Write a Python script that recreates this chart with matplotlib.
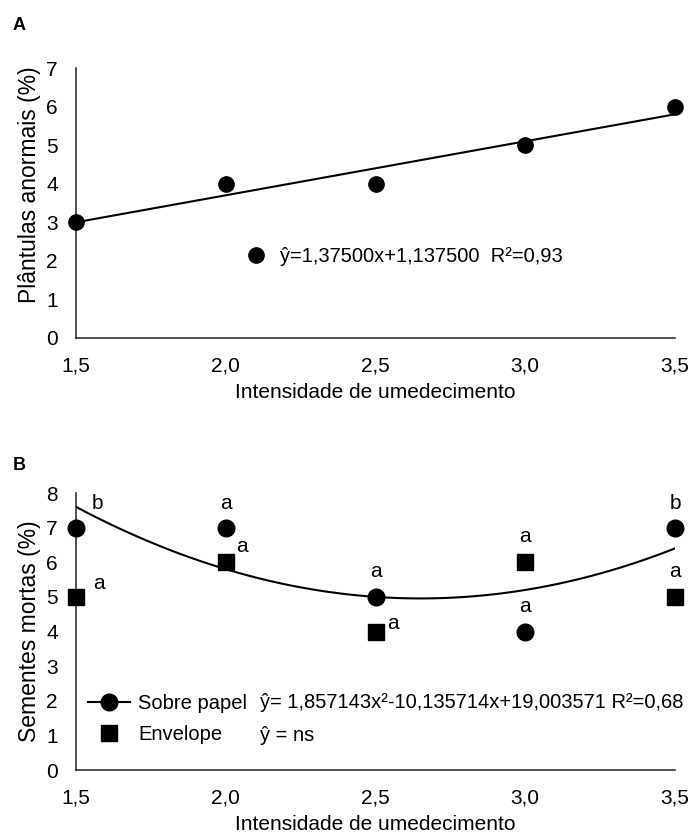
import numpy as np
import matplotlib
matplotlib.use("Agg")
from matplotlib import pyplot as plt
from matplotlib.lines import Line2D

plt.rcParams['font.family'] = ['Liberation Sans', 'DejaVu Sans']

# dados
umidade = [1.5, 2.0, 2.5, 3.0, 3.5]
anormais = [3, 4, 4, 5, 6]
sobre_papel = [7, 7, 5, 4, 7]
envelope = [5, 6, 4, 6, 5]
letras_papel = ['b', 'a', 'a', 'a', 'b']
letras_envelope = ['a', 'a', 'a', 'a', 'a']
xticks = ['1,5', '2,0', '2,5', '3,0', '3,5']

FS = 15      # ticks, eixo x, letras
FS_Y = 16.5  # rotulo eixo y
FS_LEG = 14.5

fig = plt.figure(figsize=(6.9, 8.33), dpi=100)
W, H = 690, 833
axA = fig.add_axes([76 / W, 1 - 338 / H, 599 / W, 270 / H])
axB = fig.add_axes([76 / W, 1 - 770 / H, 599 / W, 277 / H])


def estilo(ax, ymax, ylabel, ylab_pos=0.5):
    ax.set_xlim(1.5, 3.5)
    ax.set_ylim(0, ymax)
    ax.set_xticks(umidade)
    ax.set_xticklabels(xticks)
    ax.set_yticks(range(ymax + 1))
    for s in ['top', 'right']:
        ax.spines[s].set_visible(False)
    for s in ['left', 'bottom']:
        ax.spines[s].set_linewidth(1.1)
        ax.spines[s].set_color('#222222')
    ax.tick_params(axis='both', length=0, labelsize=FS)
    ax.tick_params(axis='y', pad=13)
    ax.tick_params(axis='x', pad=13)
    ax.set_xlabel('Intensidade de umedecimento', fontsize=FS, labelpad=6)
    ax.set_ylabel(ylabel, fontsize=FS_Y, labelpad=4, y=ylab_pos)


# A
estilo(axA, 7, 'Plântulas anormais (%)', 0.567)
xs = np.linspace(1.5, 3.5, 100)
cA = np.polyfit(umidade, anormais, 1)
axA.plot(xs, np.polyval(cA, xs), color='black', lw=1.5)
axA.plot(umidade, anormais, 'o', color='black', ms=11, clip_on=False, zorder=5)
hA = Line2D([], [], marker='o', ls='none', color='black', ms=11)
axA.legend([hA], ['ŷ=1,37500x+1,137500  R²=0,93'], loc='center left',
           bbox_to_anchor=(0.283, 0.30), frameon=False, fontsize=FS_LEG,
           handlelength=1.0, handletextpad=0.7, borderpad=0, borderaxespad=0)

# B
estilo(axB, 8, 'Sementes mortas (%)')
cB = np.polyfit(umidade, sobre_papel, 2)
axB.plot(xs, np.polyval(cB, xs), color='black', lw=1.5)
axB.plot(umidade, sobre_papel, 'o', color='black', ms=12, clip_on=False, zorder=5)
axB.plot(umidade, envelope, 's', color='black', ms=11, clip_on=False, zorder=5)

# letras
dx_p = [0.07, 0, 0, 0, 0]
dy_p = [0.7, 0.7, 0.72, 0.71, 0.7]
dx_e = [0.075, 0.055, 0.058, 0, 0]
dy_e = [0.4, 0.45, 0.22, 0.73, 0.72]
for x, y, l, ddx, ddy in zip(umidade, sobre_papel, letras_papel, dx_p, dy_p):
    axB.text(x + ddx, y + ddy, l, ha='center', va='center', fontsize=FS)
for x, y, l, ddx, ddy in zip(umidade, envelope, letras_envelope, dx_e, dy_e):
    axB.text(x + ddx, y + ddy, l, ha='center', va='center', fontsize=FS)

h1 = Line2D([], [], marker='o', color='black', lw=1.5, ms=12)
h2 = Line2D([], [], marker='s', ls='none', color='black', ms=11)
axB.legend([h1, h2], ['Sobre papel', 'Envelope'], loc='center left',
           bbox_to_anchor=(0.02, 0.183), frameon=False, fontsize=FS_LEG,
           handlelength=2.1, handletextpad=0.4, borderpad=0, borderaxespad=0,
           labelspacing=0.6)
axB.text(0.307, 0.242, 'ŷ= 1,857143x²-10,135714x+19,003571 R²=0,68',
         transform=axB.transAxes, fontsize=FS_LEG, va='center')
axB.text(0.307, 0.123, 'ŷ = ns', transform=axB.transAxes, fontsize=FS_LEG, va='center')

fig.text(13 / W, 1 - 26 / H, 'A', fontsize=13, fontweight='bold', va='center')
fig.text(13 / W, 1 - 465 / H, 'B', fontsize=13, fontweight='bold', va='center')

plt.savefig('out.png', dpi=100)
plt.close()
